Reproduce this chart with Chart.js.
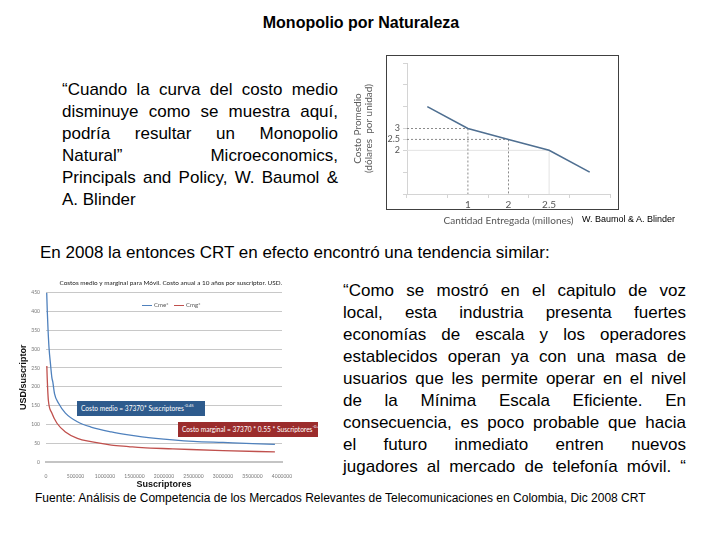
<!DOCTYPE html>
<html lang="es">
<head>
<meta charset="UTF-8">
<title>Monopolio por Naturaleza</title>
<script src="https://cdn.jsdelivr.net/npm/chart.js"></script>
<style>
  body { margin: 0; background: #fff; font-family: 'Liberation Sans', Arial, sans-serif; color: #000; }
  .page { position: relative; width: 720px; height: 540px; overflow: hidden; }
  .abs { position: absolute; }
  h1 { position: absolute; left: 0; width: 722px; top: 14px; margin: 0; font-size: 16px; text-align: center; }
  .quote { font-size: 17px; line-height: 22px; }
  .quote div { text-align: justify; text-align-last: justify; }
  .quote div.last { text-align-last: left; }
  .frame { border: 1.5px solid #404040; box-sizing: border-box; }
  .note { color: #fff; font-family: Lato, sans-serif; font-size: 6.6px; line-height: 15px; height: 15px; padding-left: 4px; box-sizing: border-box; white-space: nowrap; overflow: hidden; }
  .note sup { font-size: 4.2px; vertical-align: 4px; line-height: 0; }
  .legend { font-family: Lato, sans-serif; font-size: 6px; color: #555; white-space: nowrap; }
  .legend span.sw { display: inline-block; width: 10px; height: 0; border-top: 1.2px solid; vertical-align: middle; margin: 0 2px 0 4px; }
</style>
</head>
<body>
<div class="page">
  <h1>Monopolio por Naturaleza</h1>

  <div class="abs quote" style="left:62px; top:79px; width:276px;">
    <div>“Cuando la curva del costo medio</div>
    <div>disminuye como se muestra aquí,</div>
    <div>podría resultar un Monopolio</div>
    <div>Natural” Microeconomics,</div>
    <div>Principals and Policy, W. Baumol &amp;</div>
    <div class="last">A. Blinder</div>
  </div>

  <div class="abs" style="left:352px; top:52px; width:270px; height:175px;">
    <canvas id="avgCostChart" width="270" height="175"></canvas>
  </div>
  <div class="abs frame" style="left:386px; top:55px; width:233px; height:155px;"></div>
  <div class="abs" style="left:582px; top:214px; font-size:9px;">W. Baumol &amp; A. Blinder</div>

  <div class="abs" style="left:40px; top:243px; font-size:17px;">En 2008 la entonces CRT en efecto encontró una tendencia similar:</div>

  <div class="abs" style="left:18px; top:276px; width:304px; height:214px;">
    <canvas id="crtChart" width="304" height="214"></canvas>
  </div>
  <div class="abs legend" style="left:138px; top:301px;">
    <span class="sw" style="border-color:#4f81bd"></span>Cme*
    <span class="sw" style="border-color:#c0504d"></span>Cmg*
  </div>
  <div class="abs note" style="left:77px; top:401px; width:128px; background:#2e5b8d;">Costo medio = 37370* Suscriptores<sup>-0.45</sup></div>
  <div class="abs note" style="left:178px; top:422px; width:140px; background:#9b2c2c;">Costo marginal = 37370 * 0.55 * Suscriptores<sup>-0.45</sup></div>

  <div class="abs quote" style="left:343px; top:280px; width:343px;">
    <div>“Como se mostró en el capitulo de voz</div>
    <div>local, esta industria presenta fuertes</div>
    <div>economías de escala y los operadores</div>
    <div>establecidos operan ya con una masa de</div>
    <div>usuarios que les permite operar en el nivel</div>
    <div>de la Mínima Escala Eficiente. En</div>
    <div>consecuencia, es poco probable que hacia</div>
    <div>el futuro inmediato entren nuevos</div>
    <div>jugadores al mercado de telefonía móvil. “</div>
  </div>

  <div class="abs" style="left:35px; top:491px; font-size:12px;">Fuente: Análisis de Competencia de los Mercados Relevantes de Telecomunicaciones en Colombia, Dic 2008 CRT</div>
</div>

<script>
// --- grafico de Baumol & Blinder ---
const qtyLabels = ['', '1', '2', '2.5', ''];
const avgCost = [4, 3, 2.5, 2, 1];
const yTickValues = [0, 1, 2, 2.5, 3, 4, 5, 6];
const yTickShown = [2, 2.5, 3];
// lineas punteadas: indice de categoria y valor
const guideIdx = [1, 2];
const guideVal = [3, 2.5];
const faintIdx = [3];
const faintVal = [2];

// --- grafico CRT ---
const subsMe = [12000, 22000, 35000, 52000, 75000, 99000, 116000, 144000, 213000, 329000, 532000, 762000, 1108000, 1397000, 1628000, 2150000, 2500000, 3000000, 3500000, 3880000];
const cme = [450, 400, 350, 302, 262, 225, 212, 182, 156, 130, 107, 93, 80, 72, 67, 59, 55, 52, 49, 47];
const subsMg = [14000, 20000, 28000, 40000, 99000, 186000, 329000, 532000, 762000, 1108000, 1397000, 1628000, 2150000, 3000000, 3880000];
const cmg = [255, 225, 195, 164, 130, 103, 80, 63, 54, 45, 41, 38, 35, 30, 27];

const guidesPlugin = {
    id: 'guides',
    beforeDatasetsDraw(chart) {
        const ctx = chart.ctx;
        const x = chart.scales.x;
        const y = chart.scales.y;
        const left = chart.chartArea.left;
        const bottom = chart.chartArea.bottom;
        ctx.save();
        ctx.lineWidth = 1;
        ctx.strokeStyle = '#e3e3e3';
        faintIdx.forEach((idx, i) => {
            const px = x.getPixelForValue(idx);
            const py = y.getPixelForValue(faintVal[i]);
            ctx.beginPath();
            ctx.moveTo(left, py);
            ctx.lineTo(px, py);
            ctx.lineTo(px, bottom);
            ctx.stroke();
        });
        ctx.strokeStyle = '#8a8a8a';
        ctx.setLineDash([2, 2]);
        guideIdx.forEach((idx, i) => {
            const px = x.getPixelForValue(idx);
            const py = y.getPixelForValue(guideVal[i]);
            ctx.beginPath();
            ctx.moveTo(left, py);
            ctx.lineTo(px, py);
            ctx.moveTo(px, py);
            ctx.lineTo(px, bottom);
            ctx.stroke();
        });
        ctx.restore();
    }
};

new Chart(document.getElementById('avgCostChart'), {
    type: 'line',
    data: {
        labels: qtyLabels,
        datasets: [{
            data: avgCost,
            borderColor: '#4f6f91',
            borderWidth: 1.6,
            pointRadius: 0,
            tension: 0
        }]
    },
    options: {
        responsive: false,
        animation: false,
        layout: { padding: { top: 11, right: 12 } },
        plugins: { legend: { display: false }, tooltip: { enabled: false } },
        scales: {
            x: {
                offset: true,
                grid: { offset: true, drawOnChartArea: false, tickLength: 4, color: '#d4d4d4' },
                border: { color: '#d4d4d4' },
                ticks: { color: '#555', font: { size: 10, family: 'Lato' }, padding: 1 },
                title: {
                    display: true, text: 'Cantidad Entregada (millones)', color: '#555',
                    font: { size: 10, family: 'Lato' }, padding: { top: 3, bottom: 0 }
                },
                afterFit: (s) => { s.height = 33; }
            },
            y: {
                min: 0, max: 6,
                afterBuildTicks: (s) => { s.ticks = yTickValues.map(v => ({ value: v })); },
                grid: { drawOnChartArea: false, tickLength: 4, color: '#d4d4d4' },
                border: { color: '#d4d4d4' },
                ticks: {
                    color: '#555', font: { size: 9, family: 'Lato' }, padding: 3,
                    callback: (v) => yTickShown.includes(v) ? String(v) : ''
                },
                title: {
                    display: true, text: ['Costo Promedio', '(dólares  por unidad)'], color: '#595959',
                    font: { size: 10, family: 'Lato', lineHeight: 1.15 }, padding: { top: 0, bottom: 2 }
                },
                afterFit: (s) => { s.width = 55; }
            }
        }
    },
    plugins: [guidesPlugin]
});

new Chart(document.getElementById('crtChart'), {
    type: 'line',
    data: {
        datasets: [{
            label: 'Cme*',
            data: subsMe.map((s, i) => ({ x: s, y: cme[i] })),
            borderColor: '#4f81bd',
            borderWidth: 1.3,
            pointRadius: 0,
            cubicInterpolationMode: 'monotone'
        }, {
            label: 'Cmg*',
            data: subsMg.map((s, i) => ({ x: s, y: cmg[i] })),
            borderColor: '#c0504d',
            borderWidth: 1.3,
            pointRadius: 0,
            cubicInterpolationMode: 'monotone'
        }]
    },
    options: {
        responsive: false,
        animation: false,
        layout: { padding: { right: 40 } },
        plugins: {
            legend: { display: false },
            tooltip: { enabled: false },
            title: {
                display: true,
                align: 'end',
                text: 'Costos medio y marginal para Móvil. Costo anual a 10 años por suscriptor. USD.',
                color: '#222',
                font: { size: 6.4, family: 'Lato', weight: 'normal' },
                padding: { top: 3, bottom: 6 }
            }
        },
        scales: {
            x: {
                type: 'linear', min: 0, max: 4000000,
                grid: { display: false },
                border: { color: '#c4c4c4', width: 2 },
                ticks: {
                    stepSize: 500000, color: '#777', font: { size: 5, family: 'Lato' }, padding: 3,
                    maxRotation: 0, autoSkip: false, callback: (v) => String(v)
                },
                title: { display: true, text: 'Suscriptores', color: '#111', font: { size: 9, weight: 'bold' }, padding: { top: 3, bottom: 0 } },
                afterFit: (s) => { s.height = 28; }
            },
            y: {
                min: 0, max: 450,
                grid: { color: '#c8c8c8', drawTicks: false },
                border: { display: false },
                ticks: { stepSize: 50, color: '#777', font: { size: 5, family: 'Lato' }, padding: 6 },
                title: { display: true, text: 'USD/suscriptor', color: '#111', font: { size: 9, weight: 'bold' }, padding: { top: 0, bottom: 0 } },
                afterFit: (s) => { s.width = 28; }
            }
        }
    }
});
</script>
</body>
</html>
